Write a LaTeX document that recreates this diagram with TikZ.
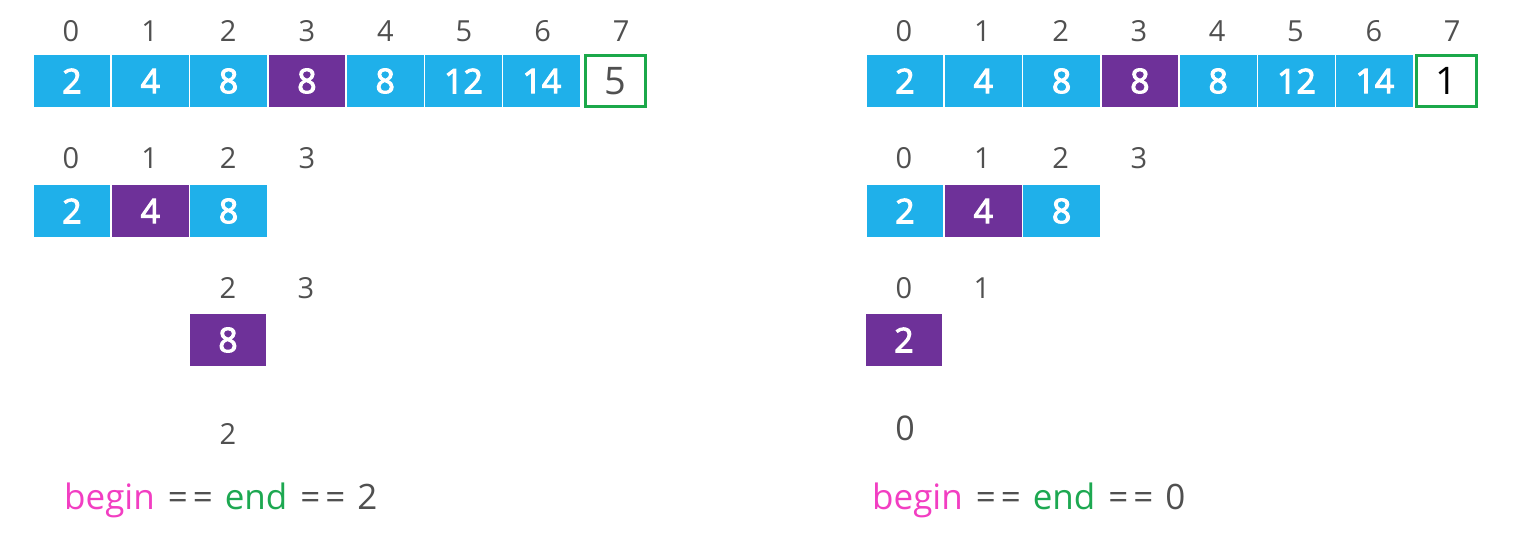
\documentclass[tikz,border=0pt]{standalone}
\usepackage{fontspec}
\setmainfont{Open Sans}
\newfontfamily\cellfont{Open Sans}[FakeBold=3]
\usetikzlibrary{positioning}
\definecolor{cellblue}{HTML}{1FB0EA}
\definecolor{cellpurple}{HTML}{6E3199}
\definecolor{boxgreen}{HTML}{1BA84A}
\definecolor{idxgray}{HTML}{505050}
\definecolor{beginpink}{HTML}{F23EC2}
\definecolor{endgreen}{HTML}{1DA851}
\newcommand{\eqeq}{\hspace{13pt}=\kern5pt=\hspace{12pt}}

\begin{document}
\begin{tikzpicture}[x=1pt, y=-1pt,
  cell/.style={draw=white, line width=1.2pt, minimum width=78pt, minimum height=53pt, inner sep=0pt, text=white, font=\cellfont\fontsize{34}{34}\selectfont},
  idx/.style={text=idxgray, inner sep=0pt, font=\fontsize{29}{29}\selectfont},
  keybox/.style={draw=boxgreen, line width=3pt, minimum width=60pt, minimum height=50pt, inner sep=0pt, text=idxgray, font=\fontsize{38}{38}\selectfont},
  result/.style={anchor=west, inner sep=0pt, text=idxgray, font=\fontsize{35}{35}\selectfont}
]
\useasboundingbox (0,0) rectangle (1519,543);

% left: search for 5
\foreach \v/\c [count=\i from 0] in {2/cellblue,4/cellblue,8/cellblue,8/cellpurple,8/cellblue,12/cellblue,14/cellblue}
  \node[cell, fill=\c] (la\i) at (72+78.3*\i, 81) {\v};
\foreach \i in {0,...,7}
  \node[idx] (lai\i) at (71+78.6*\i, 31) {\i};
\node[keybox] (lkey) at (615,81) {5};

\foreach \v/\c [count=\i from 0] in {2/cellblue,4/cellpurple,8/cellblue}
  \node[cell, fill=\c] (lb\i) at (72+78.3*\i, 211) {\v};
\foreach \i in {0,...,3}
  \node[idx] (lbi\i) at (71+78.6*\i, 158) {\i};

\node[cell, fill=cellpurple] (lc2) at (228, 340) {8};
\node[idx] (lci2) at (228, 288) {2};
\node[idx] (lci3) at (306, 288) {3};

\node[idx] (ld2) at (228, 434) {2};

\node[result] (lres) at (64, 500) {\textcolor{beginpink}{begin}\eqeq\textcolor{endgreen}{end}\eqeq 2};

% right: search for 1
\foreach \v/\c [count=\i from 0] in {2/cellblue,4/cellblue,8/cellblue,8/cellpurple,8/cellblue,12/cellblue,14/cellblue}
  \node[cell, fill=\c] (ra\i) at (905+78.3*\i, 81) {\v};
\foreach \i in {0,...,7}
  \node[idx] (rai\i) at (904+78.3*\i, 31) {\i};
\node[keybox, text=black] (rkey) at (1446,81) {1};

\foreach \v/\c [count=\i from 0] in {2/cellblue,4/cellpurple,8/cellblue}
  \node[cell, fill=\c] (rb\i) at (905+78.3*\i, 211) {\v};
\foreach \i in {0,...,3}
  \node[idx] (rbi\i) at (904+78.3*\i, 158) {\i};

\node[cell, fill=cellpurple] (rc0) at (904, 340) {2};
\node[idx] (rci0) at (904, 288) {0};
\node[idx] (rci1) at (982, 288) {1};

\node[idx, font=\fontsize{34}{34}\selectfont] (rd0) at (905, 428) {0};

\node[result] (rres) at (872, 500) {\textcolor{beginpink}{begin}\eqeq\textcolor{endgreen}{end}\eqeq 0};
\end{tikzpicture}
\end{document}
